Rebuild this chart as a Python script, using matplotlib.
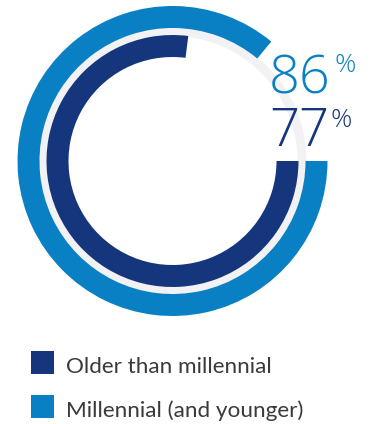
import matplotlib
matplotlib.use("Agg")
import matplotlib.pyplot as plt
from matplotlib.patches import Rectangle

# Data
series_labels = ["Older than millennial", "Millennial (and younger)"]
series_values = [77, 86]
series_colors = ["#15367d", "#0a80c4"]
track_color = "#f2f2f4"

W, H = 370, 424
fig = plt.figure(figsize=(W / 100, H / 100), dpi=100)
ax = fig.add_axes([0, 0, 1, 1])
ax.set_xlim(0, W)
ax.set_ylim(0, H)
ax.set_aspect("equal")
ax.axis("off")

cx, cy = 172.5, H - 161

# thin light track between the rings
ax.pie([1], radius=134, center=(cx, cy), colors=[track_color],
       wedgeprops=dict(width=9, linewidth=0))

# outer ring: millennial
v = series_values[1]
ax.pie([v, 100 - v], radius=155, center=(cx, cy), startangle=0, counterclock=False,
       colors=[series_colors[1], "none"], wedgeprops=dict(width=22, linewidth=0))
# inner ring: older
v = series_values[0]
ax.pie([v, 100 - v], radius=126, center=(cx, cy), startangle=0, counterclock=False,
       colors=[series_colors[0], "none"], wedgeprops=dict(width=22, linewidth=0))
ax.set_xlim(0, W)
ax.set_ylim(0, H)

nfont = "Open Sans"
# percentage labels
ax.text(269, H - 93, f"{series_values[1]}", color=series_colors[1], fontsize=39,
        family=nfont, weight=300, ha="left", va="baseline")
ax.text(335, H - 72, "%", color=series_colors[1], fontsize=19,
        family=nfont, weight=300, ha="left", va="baseline")
ax.text(269, H - 146, f"{series_values[0]}", color=series_colors[0], fontsize=38,
        family=nfont, weight=300, ha="left", va="baseline")
ax.text(330, H - 127, "%", color=series_colors[0], fontsize=19,
        family=nfont, weight=300, ha="left", va="baseline")

# legend
font = "Lato"
for i, (lab, col) in enumerate(zip(series_labels, series_colors)):
    y0 = H - 374 - i * 44
    ax.add_patch(Rectangle((31, y0), 23, 23, facecolor=col, edgecolor="none"))
    ax.text(66, y0 + 1, lab, color="#3a3a3a", fontsize=16.2, family=font,
            weight="normal", ha="left", va="baseline")

fig.savefig("out.png", dpi=100)
